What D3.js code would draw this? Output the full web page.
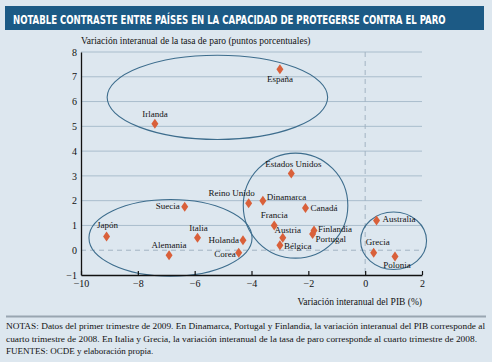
<!DOCTYPE html>
<meta charset="utf-8">
<script src="https://d3js.org/d3.v7.min.js"></script>
<style>
  body { margin: 0; background: #dde7ef; }
  svg { display: block; }
</style>
<body>
<div id="chart"></div>
<script>
// data
var countries = ["España", "Irlanda", "Estados Unidos", "Reino Unido", "Dinamarca", "Canadá",
  "Francia", "Austria", "Bélgica", "Finlandia", "Portugal", "Australia", "Grecia", "Polonia",
  "Holanda", "Corea", "Suecia", "Italia", "Japón", "Alemania"];
var gdp   = [-3.0, -7.4, -2.6, -4.1, -3.6, -2.1, -3.2, -2.9, -3.0, -1.8, -1.85, 0.4, 0.3, 1.05, -4.3, -4.45, -6.35, -5.9, -9.1, -6.9];
var unemp = [7.3, 5.1, 3.1, 1.9, 2.0, 1.7, 1.0, 0.5, 0.2, 0.8, 0.65, 1.2, -0.1, -0.25, 0.4, -0.1, 1.75, 0.5, 0.55, -0.2];

// country groups (ellipses, in data units)
var groupCx = [-5.2, -6.85, -2.45, 1.0];
var groupCy = [6.17, 0.5, 1.8, 0.38];
var groupRx = [3.88, 2.87, 1.84, 1.16];
var groupRy = [1.7, 1.55, 2.12, 1.16];

var xTicks = [-10, -8, -6, -4, -2, 0, 2];
var yTicks = [-1, 0, 1, 2, 3, 4, 5, 6, 7, 8];

var title = "NOTABLE CONTRASTE ENTRE PAÍSES EN LA CAPACIDAD DE PROTEGERSE CONTRA EL PARO";
var notes = [
  "NOTAS: Datos del primer trimestre de 2009. En Dinamarca, Portugal y Finlandia, la variación interanual del PIB corresponde al",
  "cuarto trimestre de 2008. En Italia y Grecia, la variación interanual de la tasa de paro corresponde al cuarto trimestre de 2008.",
  "FUENTES: OCDE y elaboración propia."
];

// label placement: [anchor, dx, dy]
var labelPos = {
  "España": ["middle", 0, 13], "Irlanda": ["middle", 0, -7], "Estados Unidos": ["middle", 2, -6],
  "Reino Unido": ["middle", -17, -7], "Dinamarca": ["start", 4, -1], "Canadá": ["start", 5, 3],
  "Francia": ["middle", 0, -7], "Austria": ["middle", 5, -5], "Bélgica": ["start", 4, 4],
  "Finlandia": ["start", 4, 2], "Portugal": ["start", 3, 8], "Australia": ["start", 6, 2],
  "Grecia": ["middle", 4, -8], "Polonia": ["middle", 2, 12], "Holanda": ["end", -4, 3],
  "Corea": ["end", -3, 4], "Suecia": ["end", -5, 2], "Italia": ["middle", 1, -7],
  "Japón": ["middle", 1, -9], "Alemania": ["middle", 0, -7]
};

var W = 492, H = 362;
var serif = "'Liberation Serif', 'DejaVu Serif', serif";

var svg = d3.select("#chart").append("svg")
  .attr("width", W).attr("height", H);

svg.append("rect").attr("width", W).attr("height", H).attr("fill", "#dde7ef");

// title bar
svg.append("rect").attr("x", 5).attr("y", 6).attr("width", 479).attr("height", 24)
  .attr("fill", "#1c5a85");
var titleText = svg.append("text")
  .style("font-family", "'DejaVu Sans Condensed', 'DejaVu Sans', sans-serif")
  .style("font-stretch", "condensed")
  .style("font-weight", "bold").style("font-size", "11.5px")
  .attr("fill", "#ffffff")
  .text(title);
// squeeze the title horizontally to the width it has in the reference
var natural = titleText.node().getComputedTextLength();
var sx = Math.min(1, 433 / natural);
titleText.attr("transform", "translate(13,23.5) scale(" + sx + ",1)");

var x = d3.scaleLinear().domain([-10, 2]).range([81, 422]);
var y = d3.scaleLinear().domain([-1, 8]).range([275, 52]);

// gridlines
svg.append("g").selectAll("line")
  .data(yTicks.filter(function(d) { return d > 0; }))
  .enter().append("line")
    .attr("x1", x(-10)).attr("x2", x(2))
    .attr("y1", function(d) { return y(d); }).attr("y2", function(d) { return y(d); })
    .attr("stroke", "#a9bdcc").attr("stroke-width", 1);

// zero lines dashed
svg.append("line")
  .attr("x1", x(-10)).attr("x2", x(2)).attr("y1", y(0)).attr("y2", y(0))
  .attr("stroke", "#a3b4c2").attr("stroke-dasharray", "5,4");
svg.append("line")
  .attr("x1", x(0)).attr("x2", x(0)).attr("y1", y(8)).attr("y2", y(-1))
  .attr("stroke", "#a3b4c2").attr("stroke-dasharray", "5,4");

// ellipses
svg.append("g").selectAll("ellipse")
  .data(groupCx)
  .enter().append("ellipse")
    .attr("cx", function(d) { return x(d); })
    .attr("cy", function(d, i) { return y(groupCy[i]); })
    .attr("rx", function(d, i) { return x(groupRx[i]) - x(0); })
    .attr("ry", function(d, i) { return y(0) - y(groupRy[i]); })
    .attr("fill", "none").attr("stroke", "#3d6d8d").attr("stroke-width", 1.1);

// axes
var xAxis = svg.append("g")
  .attr("transform", "translate(0," + y(-1) + ")")
  .call(d3.axisBottom(x).tickValues(xTicks).tickSizeInner(-4).tickSizeOuter(0)
    .tickFormat(function(d) { return d < 0 ? "\u2212" + Math.abs(d) : d; }));
xAxis.select(".domain").attr("stroke", "#111").attr("stroke-width", 1.3);
xAxis.selectAll(".tick line").attr("stroke", "#111").attr("stroke-width", 1.2);
xAxis.selectAll(".tick text").attr("y", 5).attr("dy", "0.71em")
  .style("font-family", serif).style("font-size", "10px").attr("fill", "#111");

var yAxis = svg.append("g")
  .attr("transform", "translate(" + x(-10) + ",0)")
  .call(d3.axisLeft(y).tickValues(yTicks).tickSize(0)
    .tickFormat(function(d) { return d < 0 ? "\u2212" + Math.abs(d) : d; }));
yAxis.select(".domain").attr("stroke", "#111").attr("stroke-width", 1.3);
yAxis.selectAll(".tick text").attr("x", -4)
  .style("font-family", serif).style("font-size", "10px").attr("fill", "#111");

// axis titles
svg.append("text")
  .attr("x", 81).attr("y", 44)
  .style("font-family", serif).style("font-size", "9.5px").attr("fill", "#111")
  .text("Variación interanual de la tasa de paro (puntos porcentuales)");
svg.append("text")
  .attr("x", 422).attr("y", 305).attr("text-anchor", "end")
  .style("font-family", serif).style("font-size", "9.5px").attr("fill", "#111")
  .text("Variación interanual del PIB (%)");

// points
var pts = svg.append("g").selectAll("g")
  .data(countries)
  .enter().append("g")
    .attr("transform", function(d, i) { return "translate(" + x(gdp[i]) + "," + y(unemp[i]) + ")"; });

pts.append("path")
  .attr("d", d3.symbol().type(d3.symbolDiamond).size(32))
  .attr("transform", "scale(1.15,0.95)")
  .attr("fill", "#d9603a");

pts.append("text")
  .attr("text-anchor", function(d) { return labelPos[d][0]; })
  .attr("x", function(d) { return labelPos[d][1]; })
  .attr("y", function(d) { return labelPos[d][2]; })
  .style("font-family", serif).style("font-size", "9px").attr("fill", "#111")
  .text(function(d) { return d; });

// separator
svg.append("line")
  .attr("x1", 6).attr("x2", 486).attr("y1", 316.5).attr("y2", 316.5)
  .attr("stroke", "#99a6b1").attr("stroke-width", 2);

// notes
svg.append("g").selectAll("text")
  .data(notes)
  .enter().append("text")
    .attr("x", 6)
    .attr("y", function(d, i) { return 329 + i * 12.5; })
    .attr("textLength", function(d, i) { return i === 0 ? 479 : (i === 1 ? 471 : null); })
    .attr("lengthAdjust", "spacingAndGlyphs")
    .style("font-family", serif).style("font-size", "9px").attr("fill", "#111")
    .text(function(d) { return d; });
</script>
</body>
